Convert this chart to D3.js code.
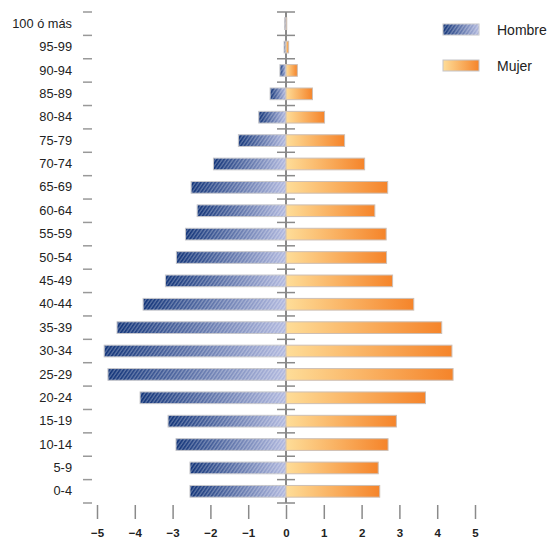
<!DOCTYPE html>
<html>
<head>
<meta charset="utf-8">
<script src="https://cdn.jsdelivr.net/npm/d3@7"></script>
<style>
  body { margin: 0; background: #fff; }
  svg { display: block; font-family: "Liberation Sans", Arial, sans-serif; }
</style>
</head>
<body>
<svg id="chart" width="549" height="542"></svg>
<script>
// age groups, top to bottom
const ageGroups = ["100 ó más", "95-99", "90-94", "85-89", "80-84", "75-79", "70-74",
    "65-69", "60-64", "55-59", "50-54", "45-49", "40-44", "35-39", "30-34",
    "25-29", "20-24", "15-19", "10-14", "5-9", "0-4"];
// percentages (hombres as positive values, drawn to the left)
const hombre = [0.04, 0.05, 0.16, 0.42, 0.72, 1.26, 1.92, 2.51, 2.35, 2.66, 2.9, 3.19,
    3.78, 4.47, 4.81, 4.71, 3.86, 3.12, 2.91, 2.54, 2.54];
const mujer = [0.02, 0.07, 0.3, 0.7, 1.02, 1.55, 2.08, 2.69, 2.35, 2.65, 2.66, 2.82,
    3.38, 4.12, 4.39, 4.42, 3.69, 2.92, 2.7, 2.44, 2.48];
const xTicks = [-5, -4, -3, -2, -1, 0, 1, 2, 3, 4, 5];

const svg = d3.select("#chart");
const defs = svg.append("defs");

const x = d3.scaleLinear().domain([-5, 5]).range([97, 475]);
const y = d3.scaleBand().domain(ageGroups).range([12, 503]).paddingInner(0.5).paddingOuter(0.25);

// gradients
const gH = defs.append("linearGradient").attr("id", "gHombre")
    .attr("x1", 0).attr("x2", 1).attr("y1", 0).attr("y2", 0);
gH.append("stop").attr("offset", "0%").attr("stop-color", "#14367a");
gH.append("stop").attr("offset", "100%").attr("stop-color", "#b4bbe0");
const gM = defs.append("linearGradient").attr("id", "gMujer")
    .attr("x1", 0).attr("x2", 1).attr("y1", 0).attr("y2", 0);
gM.append("stop").attr("offset", "0%").attr("stop-color", "#fedd98");
gM.append("stop").attr("offset", "100%").attr("stop-color", "#f5842a");

// hatch stripes
const pat = defs.append("pattern").attr("id", "hatch")
    .attr("patternUnits", "userSpaceOnUse").attr("width", 3.6).attr("height", 10)
    .attr("patternTransform", "skewX(-35)");
pat.append("rect").attr("x", 2.2).attr("y", 0).attr("width", 1.2).attr("height", 10)
    .attr("fill", "#fff").attr("fill-opacity", 0.35);

const rows = ageGroups.map((g, i) => ({ g, h: hombre[i], m: mujer[i] }));

// center axis line
svg.append("line")
    .attr("x1", x(0)).attr("x2", x(0))
    .attr("y1", 12).attr("y2", 503)
    .attr("stroke", "#8a8a8a").attr("stroke-width", 2);

// band boundaries
const bounds = ageGroups.map(g => y(g) - y.step() * y.paddingInner() / 2);
bounds.push(503);

svg.append("g").selectAll("line.c").data(bounds).enter().append("line")
    .attr("x1", x(0) - 9).attr("x2", x(0) + 9)
    .attr("y1", d => d).attr("y2", d => d)
    .attr("stroke", "#8a8a8a").attr("stroke-width", 1.5);

svg.append("g").selectAll("line.l").data(bounds).enter().append("line")
    .attr("x1", 83).attr("x2", 92)
    .attr("y1", d => d).attr("y2", d => d)
    .attr("stroke", "#999").attr("stroke-width", 1.5);

// bars
const bars = svg.append("g");
bars.selectAll("rect.h").data(rows).enter().append("rect")
    .attr("x", d => x(-d.h)).attr("y", d => y(d.g))
    .attr("width", d => x(0) - x(-d.h)).attr("height", y.bandwidth())
    .attr("fill", "url(#gHombre)")
    .attr("stroke", "#c4c4c8").attr("stroke-width", 1);
bars.selectAll("rect.hh").data(rows).enter().append("rect")
    .attr("x", d => x(-d.h)).attr("y", d => y(d.g))
    .attr("width", d => x(0) - x(-d.h)).attr("height", y.bandwidth())
    .attr("fill", "url(#hatch)");
bars.selectAll("rect.m").data(rows).enter().append("rect")
    .attr("x", x(0)).attr("y", d => y(d.g))
    .attr("width", d => x(d.m) - x(0)).attr("height", y.bandwidth())
    .attr("fill", "url(#gMujer)")
    .attr("stroke", "#cdbfb5").attr("stroke-width", 1);

// y labels
const yAxis = svg.append("g")
    .attr("transform", "translate(72,0)")
    .call(d3.axisLeft(y).tickSize(0).tickPadding(0));
yAxis.select(".domain").remove();
yAxis.selectAll("text")
    .attr("font-family", "'Liberation Sans', Arial, sans-serif")
    .attr("font-size", 12.8).attr("fill", "#222");

// x axis
const xAxis = svg.append("g")
    .attr("transform", "translate(0,505)")
    .call(d3.axisBottom(x).tickValues(xTicks).tickSize(14).tickPadding(10));
xAxis.select(".domain").remove();
xAxis.selectAll("line").attr("stroke", "#8a8a8a").attr("stroke-width", 1.5);
xAxis.selectAll("text")
    .attr("font-family", "'Liberation Sans', Arial, sans-serif")
    .attr("font-size", 11.5).attr("font-weight", "bold").attr("fill", "#222");

// legend
const legend = [
    { label: "Hombre", fill: "url(#gHombre)", hatch: true, y: 24 },
    { label: "Mujer", fill: "url(#gMujer)", hatch: false, y: 60 }
];
const lg = svg.append("g");
legend.forEach(d => {
    lg.append("rect").attr("x", 443).attr("y", d.y).attr("width", 36).attr("height", 11)
        .attr("fill", d.fill).attr("stroke", "#c4c4c8");
    if (d.hatch) {
        lg.append("rect").attr("x", 443).attr("y", d.y).attr("width", 36).attr("height", 11)
            .attr("fill", "url(#hatch)");
    }
    lg.append("text").attr("x", 497).attr("y", d.y + 6).attr("dy", "0.35em")
        .attr("font-size", 14).attr("fill", "#222").text(d.label);
});
</script>
</body>
</html>
